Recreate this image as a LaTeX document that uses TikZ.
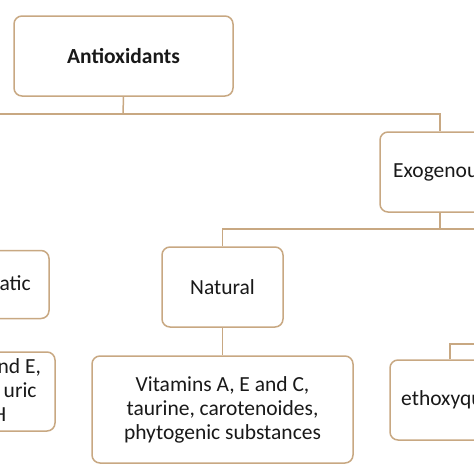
\documentclass[tikz,border=0pt]{standalone}
\usepackage{fontspec}
\setmainfont{Carlito}
\definecolor{tan}{RGB}{200,168,130}
\definecolor{ink}{RGB}{25,25,25}
\begin{document}
\begin{tikzpicture}[x=1pt,y=-1pt,
  box/.style={draw=tan,line width=1.5pt,rounded corners=8pt,fill=white,align=center,
    text=ink,inner sep=0pt,font=\fontsize{21.5}{24}\selectfont},
  link/.style={draw=tan,line width=1.5pt}]
\useasboundingbox (0,0) rectangle (474,474);
\clip (0,0) rectangle (474,474);
% nodes
\node[box,minimum width=219pt,minimum height=80pt,font=\fontsize{21.5}{24}\selectfont\bfseries] (anti) at (123.5,56) {Antioxidants};
\node[box,minimum width=120pt,minimum height=80pt] (exo) at (440,172) {Exogenous};
\node[box,minimum width=121pt,minimum height=80pt] (nat) at (222.5,287) {Natural};
\node[box,minimum width=261pt,minimum height=107pt] (vit) at (222.5,409.5) {Vitamins A, E and C,\\taurine, carotenoides,\\phytogenic substances};
\node[box,minimum width=120pt,minimum height=80pt] (eth) at (450,400) {ethoxyquin};
\node[box,minimum width=168pt,minimum height=68pt] (nonenz) at (-35,284.5) {Non-enzymatic};
\node[box,minimum width=180pt,minimum height=79pt] (nevit) at (-35,391.5) {Vitamins A and E,\\glutathione, uric\\acid, GSH};
% junction coordinates
\coordinate (j1) at (123,114);
\coordinate (jl) at (-30,114);
\coordinate (j2) at (440,114);
\coordinate (j3) at (440,229);
\coordinate (j4) at (222.5,229);
\coordinate (jr) at (500,229);
\coordinate (j5) at (450,344);
\coordinate (jr2) at (500,344);
% connectors
\draw[link] (anti.south) -- (j1);
\draw[link] (jl) -- (j2) -- (exo.north);
\draw[link] (exo.south) -- (j3);
\draw[link] (nat.north) -- (j4) -- (jr);
\draw[link] (nat.south) -- (vit.north);
\draw[link] (eth.north) -- (j5) -- (jr2);
\end{tikzpicture}
\end{document}
